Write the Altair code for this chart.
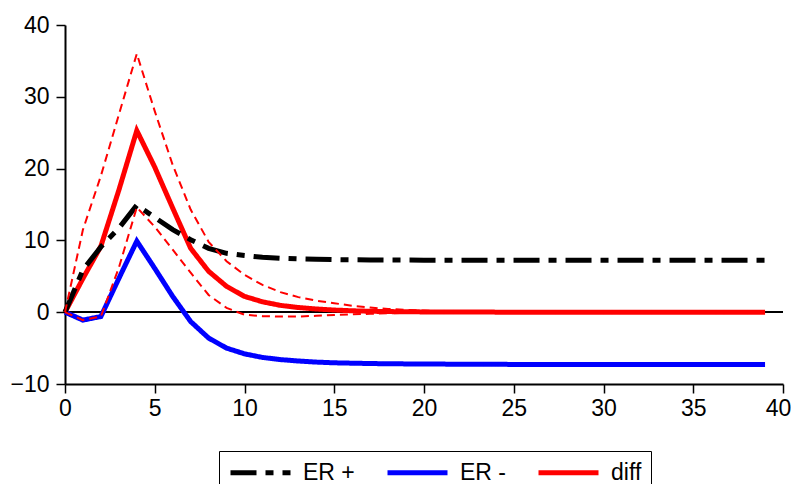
import altair as alt
import pandas as pd

periods = list(range(40))

er_plus = [0, 5.9, 9.1, 11.7, 14.9, 13.2, 11.5, 10.1, 8.9, 8.2,
           7.9, 7.65, 7.5, 7.42, 7.36, 7.32, 7.3, 7.28, 7.27, 7.26,
           7.25, 7.25, 7.25, 7.25, 7.24, 7.24, 7.24, 7.24, 7.24, 7.24,
           7.24, 7.24, 7.24, 7.24, 7.24, 7.24, 7.24, 7.24, 7.24, 7.24]

er_minus = [0, -1.1, -0.6, 4.7, 9.9, 6.1, 2.2, -1.3, -3.6, -5.0,
            -5.8, -6.3, -6.6, -6.8, -6.95, -7.05, -7.1, -7.15, -7.18, -7.2,
            -7.22, -7.23, -7.24, -7.25, -7.26, -7.27, -7.27, -7.28, -7.28, -7.29,
            -7.29, -7.29, -7.3, -7.3, -7.3, -7.3, -7.3, -7.3, -7.3, -7.3]

diff = [0, 4.7, 9.2, 17.0, 25.3, 20.2, 14.5, 8.9, 5.7, 3.6,
        2.2, 1.45, 0.95, 0.65, 0.45, 0.3, 0.2, 0.13, 0.09, 0.06,
        0.04, 0.03, 0.02, 0.02, 0.01, 0.01, 0.01, 0.01, 0.01, 0.01,
        0.01, 0.01, 0.01, 0.01, 0.01, 0.01, 0.01, 0.01, 0.01, 0.01]

diff_upper = [0, 11.5, 19.0, 27.5, 36.0, 28.0, 20.5, 14.3, 9.8, 7.1,
              5.2, 3.8, 2.8, 2.1, 1.6, 1.25, 0.9, 0.65, 0.45, 0.32,
              0.22, 0.15, 0.1, 0.07, 0.05, 0.04, 0.03, 0.02, 0.02, 0.02,
              0.02, 0.02, 0.02, 0.02, 0.02, 0.02, 0.02, 0.02, 0.02, 0.02]

diff_lower = [0, -1.1, -0.6, 6.2, 14.6, 11.9, 8.7, 5.5, 2.4, 0.6,
              -0.35, -0.55, -0.6, -0.6, -0.5, -0.4, -0.3, -0.22, -0.15, -0.1,
              -0.07, -0.05, -0.03, -0.02, -0.01, 0, 0, 0, 0, 0,
              0, 0, 0, 0, 0, 0, 0, 0, 0, 0]

series_names = ["ER +", "ER -", "diff"]
series_colors = ["#000000", "#0000ff", "#ff0000"]
series_dashes = [[26, 9, 8, 9], [1, 0], [1, 0]]

x_ticks = [0, 5, 10, 15, 20, 25, 30, 35, 40]
y_ticks = [-10, 0, 10, 20, 30, 40]

rows = []
for name, vals in zip(series_names, [er_plus, er_minus, diff]):
    for p, v in zip(periods, vals):
        rows.append({"period": p, "value": v, "series": name})
main = pd.DataFrame(rows)
bands = pd.DataFrame({"period": periods, "upper": diff_upper, "lower": diff_lower})

xenc = alt.X("period:Q", scale=alt.Scale(domain=[0, 40], nice=False),
             axis=alt.Axis(values=x_ticks, title=None, labelPadding=4, labelFlush=False,
                           labelOffset=alt.condition("datum.value == 40", alt.value(-5), alt.value(0))))
yscale = alt.Scale(domain=[-10, 40], nice=False)
yaxis = alt.Axis(values=y_ticks, title=None, labelPadding=7, labelFlush=False)

color = alt.Color("series:N", scale=alt.Scale(domain=series_names, range=series_colors), title=None)
dash = alt.StrokeDash("series:N", scale=alt.Scale(domain=series_names, range=series_dashes), title=None)

zero = alt.Chart(bands).mark_rule(color="black", strokeWidth=1).encode(y=alt.datum(0))

def series_line(name):
    return alt.Chart(main).transform_filter(alt.datum.series == name).mark_line(
        strokeWidth=5, strokeCap="butt").encode(
        x=xenc, y=alt.Y("value:Q", scale=yscale, axis=yaxis), color=color, strokeDash=dash)

upper = alt.Chart(bands).mark_line(color="#ff0000", strokeWidth=2, strokeDash=[8, 5]).encode(
    x=xenc, y=alt.Y("upper:Q", scale=yscale, axis=yaxis))
lower = alt.Chart(bands).mark_line(color="#ff0000", strokeWidth=2, strokeDash=[8, 5]).encode(
    x=xenc, y=alt.Y("lower:Q", scale=yscale, axis=yaxis))

chart = alt.layer(
    zero, series_line("diff"), series_line("ER -"), series_line("ER +"), upper, lower
).properties(
    width=718, height=359,
    padding={"left": 57, "top": 17, "right": 8, "bottom": 100},
    autosize=alt.AutoSizeParams(type="none"),
).configure_view(stroke=None).configure_axis(
    domainColor="black", domainWidth=2, tickColor="black", tickWidth=1.5, tickSize=9,
    labelFont="Liberation Sans", labelFontSize=23, labelColor="black", grid=False,
).configure_legend(
    orient="none", legendX=154, legendY=426, direction="horizontal",
    strokeColor="black", padding=9, symbolType="M-1,0H5", symbolSize=400,
    symbolStrokeWidth=5, labelFont="Liberation Sans", labelFontSize=23,
    labelColor="black", columnPadding=22, labelOffset=50,
)

chart.save("out.html", embed_options={"renderer": "svg", "actions": False})
